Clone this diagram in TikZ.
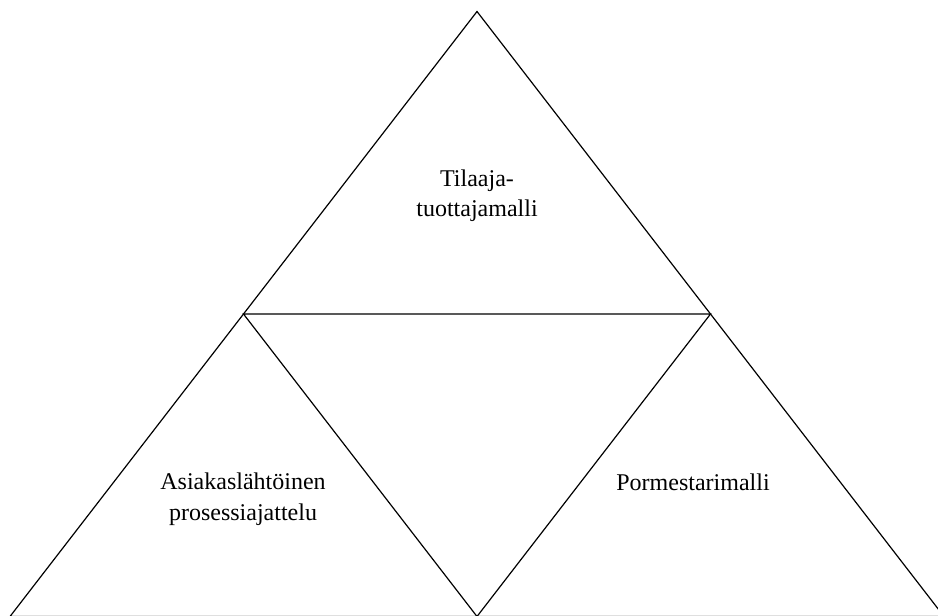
\documentclass[tikz,border=0pt]{standalone}
\usepackage{fontspec}
\setmainfont{Liberation Serif}
\begin{document}
\begin{tikzpicture}[x=1pt,y=-1pt,
  edge/.style={line width=1.2pt, line join=miter},
  lbl/.style={font=\fontsize{24}{30.5}\selectfont, align=center, anchor=base, inner sep=0pt}]
  \useasboundingbox (0,0) rectangle (938,616);
  % corner points of the large triangle and its inner, inverted triangle
  \coordinate (apex) at (477,11.5);
  \coordinate (bl) at (10,616.5);
  \coordinate (br) at (944,616.5);
  \coordinate (ml) at (243.5,314);
  \coordinate (mr) at (710.5,314);
  \coordinate (mb) at (477,616.5);
  \begin{scope}
    \clip (0,0) rectangle (938,616);
    \draw[edge] (apex) -- (bl) -- (br) -- cycle;
    \draw[edge] (ml) -- (mr) -- (mb) -- cycle;
  \end{scope}
  % the base anchor of a two-line label sits on its second line
  \node[lbl] (top) at (477,216.5) {Tilaaja-\\tuottajamalli};
  \node[lbl] (left) at (243,520) {Asiakaslähtöinen\\prosessiajattelu};
  \node[lbl] (right) at (693,490) {Pormestarimalli};
\end{tikzpicture}
\end{document}
